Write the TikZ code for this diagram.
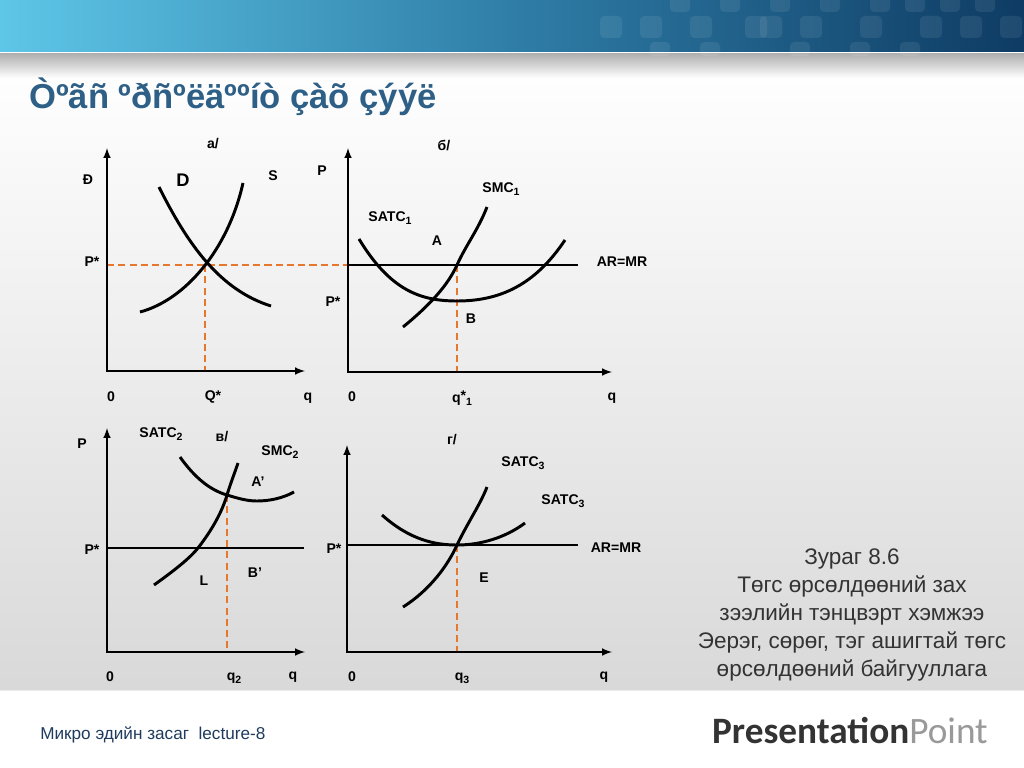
\documentclass[tikz,border=0pt]{standalone}
\usepackage{fontspec}
\setmainfont{Liberation Sans}
\newfontfamily\titlefont{Liberation Sans}
\newfontfamily\logofont{Carlito}
\newcommand{\lowidx}[1]{\raisebox{-0.4ex}{\fontsize{7.5}{8}\selectfont #1}}
\definecolor{guideorange}{HTML}{E8772E}
\definecolor{titleblue}{HTML}{2E6087}
\definecolor{footblue}{HTML}{1F3C5E}
\definecolor{bandlight}{HTML}{5EC6E8}
\definecolor{bandmid}{HTML}{2F7EA8}
\definecolor{banddark}{HTML}{0E3B63}
\tikzset{
  axis/.style={line width=1.4pt,<->,>=latex},
  curve/.style={line width=2.1pt},
  guide/.style={guideorange,line width=0.9pt,dash pattern=on 5pt off 3pt},
  lbl/.style={font=\bfseries\fontsize{10}{12}\selectfont,inner sep=0pt},
  tile/.style={white,opacity=0.08,rounded corners=3pt}
}

\begin{document}
\begin{tikzpicture}[x=0.025cm,y=-0.025cm]
  \useasboundingbox (0,0) rectangle (1024,768);
  % slide background
  \shade[top color=white,bottom color=black!15] (0,60) rectangle (1024,690);
  \fill[white] (0,690) rectangle (1024,768);
  \draw[black!8] (0,690) -- (1024,690);
  \shade[top color=black!40,bottom color=white,opacity=0.8] (0,53) rectangle (1024,78);
  \shade[left color=bandlight,right color=banddark,middle color=bandmid] (0,0) rectangle (1024,52);
  \foreach \x in {670,720,770,820,870,905,940,975}
    \fill[tile] (\x,-4) rectangle (\x+20,12);
  \foreach \x in {600,640,690,745,760,800,860,920,960,1000}
    \fill[tile] (\x,16) rectangle (\x+22,38);
  \foreach \x in {650,700,790,850,900}
    \fill[tile] (\x,42) rectangle (\x+20,56);
  \draw[white,line width=1pt] (0,52.5) -- (1024,52.5);

  \node[anchor=west,inner sep=0pt,text=titleblue,font=\titlefont\bfseries\fontsize{24.6}{28}\selectfont]
    (title) at (29,97) {Òºãñ ºðñºëäººíò çàõ çýýë};

  % panel a
  \coordinate (aO) at (107,371);
  \coordinate (aY) at (107,148);
  \coordinate (aX) at (305,371);
  \coordinate (aE) at (205,265);
  \draw[guide] (107,265) -- (aE) -- (348,265);
  \draw[guide] (aE) -- (205,371);
  \draw[axis] (aY) -- (aO) -- (aX);
  \draw[curve] (159,187) .. controls (188,245) and (220,290) .. (271,306);
  \draw[curve] (140,312) .. controls (185,300) and (228,250) .. (243,183);
  \node[lbl] (aTitle) at (213,144) {а/};
  \node[lbl] (aP) at (88,180) {Ð};
  \node[lbl,font=\bfseries\fontsize{13}{14}\selectfont] (aD) at (183,180) {D};
  \node[lbl] (aS) at (273,176) {S};
  \node[lbl] (aPs) at (92,262) {P*};
  \node[lbl] (aZero) at (111,397) {0};
  \node[lbl] (aQs) at (213,397) {Q*};
  \node[lbl] (aq) at (308,398) {q};

  % panel b
  \coordinate (bO) at (348,372);
  \coordinate (bY) at (348,148);
  \coordinate (bX) at (612,372);
  \coordinate (bA) at (457,265);
  \draw[guide] (bA) -- (457,372);
  \draw[axis] (bY) -- (bO) -- (bX);
  \draw[curve] (348,265) -- (578,265);
  \draw[curve] (359,239) .. controls (390,290) and (420,301) .. (457,301)
    .. controls (500,301) and (535,285) .. (565,240);
  \draw[curve] (403,327) .. controls (430,305) and (448,285) .. (bA)
    .. controls (466,245) and (478,230) .. (487,207);
  \node[lbl] (bP) at (322,171) {P};
  \node[lbl] (bTitle) at (444,145) {б/};
  \node[lbl] (bSMC) at (501,189) {SMC\lowidx{1}};
  \node[lbl] (bSATC) at (390,218) {SATC\lowidx{1}};
  \node[lbl] (bAlab) at (437,241) {A};
  \node[lbl] (bBlab) at (471,319) {B};
  \node[lbl] (bPs) at (333,302) {P*};
  \node[lbl] (bZero) at (352,397) {0};
  \node[lbl] (bqs) at (462,398) {q\raisebox{0.3ex}{*}\lowidx{1}};
  \node[lbl] (bq) at (612,398) {q};
  \node[lbl] (bARMR) at (622,262) {AR=MR};

  % panel v
  \coordinate (vO) at (107,652);
  \coordinate (vY) at (107,428);
  \coordinate (vX) at (305,652);
  \coordinate (vA) at (227,495);
  \coordinate (vL) at (198,548);
  \draw[guide] (vA) -- (227,652);
  \draw[axis] (vY) -- (vO) -- (vX);
  \draw[curve] (107,548) -- (304,548);
  \draw[curve] (180,457) .. controls (195,478) and (210,490) .. (vA)
    .. controls (240,499) and (248,501) .. (257,501)
    .. controls (270,501) and (283,498) .. (294,492);
  \draw[curve] (154,585) .. controls (175,570) and (190,558) .. (vL)
    .. controls (212,530) and (222,512) .. (vA)
    .. controls (231,482) and (235,472) .. (238,463);
  \node[lbl] (vP) at (82,444) {P};
  \node[lbl] (vSATC) at (161,434) {SATC\lowidx{2}};
  \node[lbl] (vTitle) at (222,437) {в/};
  \node[lbl] (vSMC) at (280,452) {SMC\lowidx{2}};
  \node[lbl] (vAlab) at (258,482) {A’};
  \node[lbl] (vLlab) at (204,581) {L};
  \node[lbl] (vBlab) at (255,573) {B’};
  \node[lbl] (vPs) at (92,550) {P*};
  \node[lbl] (vZero) at (110,677) {0};
  \node[lbl] (vq2) at (234,678) {q\lowidx{2}};
  \node[lbl] (vq) at (293,677) {q};

  % panel g
  \coordinate (gO) at (347,652);
  \coordinate (gY) at (347,445);
  \coordinate (gX) at (612,652);
  \coordinate (gE) at (457,545);
  \draw[guide] (gE) -- (457,652);
  \draw[axis] (gY) -- (gO) -- (gX);
  \draw[curve] (347,545) -- (578,545);
  \draw[curve] (382,515) .. controls (410,540) and (435,545) .. (gE)
    .. controls (480,545) and (505,538) .. (525,523);
  \draw[curve] (403,607) .. controls (430,590) and (448,565) .. (gE)
    .. controls (468,522) and (480,505) .. (487,487);
  \node[lbl] (gTitle) at (452,440) {г/};
  \node[lbl] (gSATCa) at (523,463) {SATC\lowidx{3}};
  \node[lbl] (gSATCb) at (563,501) {SATC\lowidx{3}};
  \node[lbl] (gARMR) at (616,548) {AR=MR};
  \node[lbl] (gPs) at (334,549) {P*};
  \node[lbl] (gElab) at (484,578) {E};
  \node[lbl] (gZero) at (352,677) {0};
  \node[lbl] (gq3) at (462,678) {q\lowidx{3}};
  \node[lbl] (gq) at (604,677) {q};

  % caption
  \node[align=center,text=black!80,font=\fontsize{16}{20}\selectfont] (caption) at (852,615)
    {Зураг 8.6\\Төгс өрсөлдөөний зах\\зээлийн тэнцвэрт хэмжээ\\Эерэг, сөрөг, тэг ашигтай төгс\\өрсөлдөөний байгууллага};

  % footer
  \node[anchor=west,inner sep=0pt,text=footblue,font=\fontsize{12.2}{14}\selectfont] (foot) at (40,735)
    {Микро эдийн засаг\ \ lecture-8};
  \node[anchor=east,inner sep=0pt,font=\logofont\fontsize{26.5}{28}\selectfont] (logo) at (988,731)
    {\textcolor{black!80}{\bfseries Presentation}\textcolor{black!40}{Point}};
\end{tikzpicture}
\end{document}
